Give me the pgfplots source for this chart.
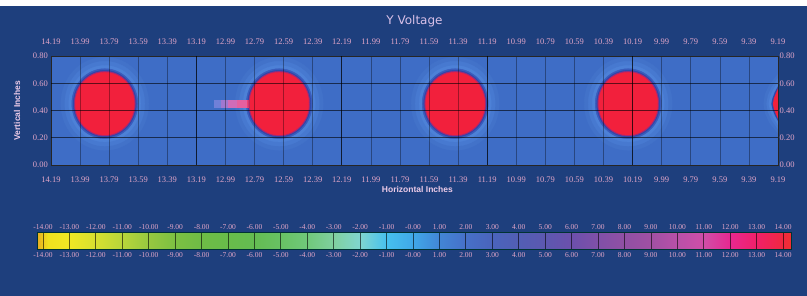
\documentclass[border=0pt]{standalone}
\usepackage{pgfplots}
\pgfplotsset{compat=1.18}
\usepackage{fontspec}
\setmainfont{Liberation Serif}
\newfontfamily\titlefont{DejaVu Sans}
\newfontfamily\labfont{Liberation Sans}
\definecolor{pagebg}{HTML}{1E3F7D}
\definecolor{plotbg}{HTML}{3E6DC6}
\definecolor{tickc}{HTML}{E2A6C8}
\definecolor{titlec}{HTML}{D8C0E8}
\definecolor{labc}{HTML}{ECCBE8}
\definecolor{glowA}{HTML}{4272C9}
\definecolor{glowB}{HTML}{4779D0}
\definecolor{glowC}{HTML}{4D81D7}
\definecolor{ringA}{HTML}{3A5CBC}
\definecolor{ringB}{HTML}{2E48AA}
\definecolor{ringC}{HTML}{A02A78}
\definecolor{core}{HTML}{F2203C}
\definecolor{tail1}{HTML}{7080D8}
\definecolor{tail2}{HTML}{A078D0}
\definecolor{tail3}{HTML}{D06CB8}
\definecolor{tail4}{HTML}{E460A0}
\definecolor{tail5}{HTML}{EE4070}
\pgfplotsset{
  colormap={vc}{
    rgb255(0pt)=(232,176,32);
    rgb255(4pt)=(238,205,30);
    rgb255(8pt)=(240,225,30);
    rgb255(24pt)=(240,232,36);
    rgb255(44pt)=(214,224,48);
    rgb255(64pt)=(184,214,58);
    rgb255(84pt)=(150,200,64);
    rgb255(104pt)=(124,192,66);
    rgb255(124pt)=(110,188,70);
    rgb255(144pt)=(104,188,74);
    rgb255(164pt)=(100,188,82);
    rgb255(184pt)=(104,194,100);
    rgb255(204pt)=(112,200,122);
    rgb255(224pt)=(128,208,160);
    rgb255(244pt)=(128,214,208);
    rgb255(264pt)=(70,192,238);
    rgb255(284pt)=(64,168,232);
    rgb255(304pt)=(66,134,214);
    rgb255(324pt)=(70,112,200);
    rgb255(344pt)=(74,100,188);
    rgb255(364pt)=(82,94,180);
    rgb255(384pt)=(92,88,176);
    rgb255(404pt)=(108,80,172);
    rgb255(424pt)=(128,80,168);
    rgb255(444pt)=(144,80,164);
    rgb255(464pt)=(160,80,164);
    rgb255(484pt)=(184,80,168);
    rgb255(504pt)=(208,78,168);
    rgb255(524pt)=(232,40,144);
    rgb255(544pt)=(240,32,104);
    rgb255(564pt)=(240,40,64);
    rgb255(570pt)=(240,48,48)
  }
}
\begin{document}
\begin{tikzpicture}
\fill[white] (0pt,0pt) rectangle (807pt,296pt);
\fill[pagebg] (0pt,0pt) rectangle (807pt,290pt);
% main heat map
\begin{axis}[
  at={(51pt,131pt)}, anchor=south west, scale only axis,
  width=727pt, height=109pt,
  x dir=reverse, xmin=9.19, xmax=14.19, ymin=0, ymax=0.8,
  axis background/.style={fill=plotbg},
  axis on top, clip=true, clip marker paths=true,
  xtick={9.19,9.39,9.59,9.79,9.99,10.39,10.59,10.79,10.99,11.39,11.59,11.79,11.99,12.39,12.59,12.79,12.99,13.39,13.59,13.79,13.99,14.19},
  extra x ticks={10.19,11.19,12.19,13.19},
  ytick={0,0.2,0.4,0.6,0.8},
  extra y ticks={0.2,0.4,0.6}, extra y tick labels={,,},
  xmajorgrids=true, ymajorgrids=false,
  major grid style={draw=black, draw opacity=0.35, line width=0.6pt},
  extra x tick style={grid=major, major grid style={draw=black, draw opacity=0.75, line width=0.8pt}},
  extra y tick style={grid=major, major grid style={draw=black, draw opacity=0.6, line width=0.8pt}},
  major tick length=0pt,
  axis line style={draw=black!85, line width=0.8pt},
  tick label style={font=\fontsize{8.5}{10}\selectfont, text=tickc},
  xticklabel style={anchor=center, yshift=-15pt},
  yticklabel style={anchor=east, inner sep=0pt, xshift=-3pt},
  /pgf/number format/fixed, /pgf/number format/fixed zerofill,
  /pgf/number format/precision=2, /pgf/number format/assume math mode=true,
  title={Y Voltage},
  title style={at={(axis description cs:0.5,1.33)}, anchor=center, yshift=-7pt, font=\titlefont\fontsize{12}{14}\selectfont, text=titlec},
  xlabel={Horizontal Inches},
  every axis x label/.style={at={(axis description cs:0.504,-0.2248)}, anchor=center, font=\labfont\bfseries\fontsize{8.5}{10}\selectfont, text=labc},
  ylabel={Vertical Inches},
  every axis y label/.style={at={(axis description cs:-0.0468,0.5)}, rotate=90, anchor=center, font=\labfont\bfseries\fontsize{8.5}{10}\selectfont, text=labc},
]
\addplot[only marks, mark=*, mark size=44pt, color=glowA, mark options={yscale=1.06}] coordinates {(13.82,0.45) (12.62,0.45) (11.41,0.45) (10.22,0.45)};
\addplot[only marks, mark=*, mark size=40pt, color=glowB, mark options={yscale=1.06}] coordinates {(13.82,0.45) (12.62,0.45) (11.41,0.45) (10.22,0.45)};
\addplot[only marks, mark=*, mark size=36pt, color=glowC, mark options={yscale=1.06}] coordinates {(13.82,0.45) (12.62,0.45) (11.41,0.45) (10.22,0.45)};
\addplot[only marks, mark=*, mark size=33pt, color=ringA, mark options={yscale=1.06}] coordinates {(13.82,0.45) (12.62,0.45) (11.41,0.45) (10.22,0.45)};
\addplot[only marks, mark=*, mark size=31.5pt, color=ringB, mark options={yscale=1.06}] coordinates {(13.82,0.45) (12.62,0.45) (11.41,0.45) (10.22,0.45)};
% fifth spot, cut by the right edge
\addplot[fill=glowA, draw=none] coordinates {(9.19,0.23) (9.25,0.31) (9.28,0.38) (9.29,0.45) (9.28,0.52) (9.25,0.59) (9.19,0.67)};
\addplot[fill=glowB, draw=none] coordinates {(9.19,0.26) (9.235,0.33) (9.26,0.39) (9.27,0.45) (9.26,0.51) (9.235,0.57) (9.19,0.64)};
\addplot[fill=glowC, draw=none] coordinates {(9.19,0.29) (9.225,0.35) (9.245,0.40) (9.255,0.45) (9.245,0.50) (9.225,0.55) (9.19,0.61)};
\addplot[fill=ringB, draw=none] coordinates {(9.19,0.322) (9.212,0.365) (9.228,0.41) (9.236,0.45) (9.228,0.49) (9.212,0.535) (9.19,0.578)};
\addplot[fill=core, draw=none] coordinates {(9.19,0.340) (9.205,0.375) (9.218,0.41) (9.225,0.45) (9.218,0.49) (9.205,0.525) (9.19,0.56)};
% tail of the second spot
\addplot[line width=8pt, line cap=butt, color=tail1] coordinates {(13.07,0.45) (13.02,0.45)};
\addplot[line width=8pt, line cap=butt, color=tail2] coordinates {(13.02,0.45) (12.97,0.45)};
\addplot[line width=8pt, line cap=butt, color=tail3] coordinates {(12.97,0.45) (12.91,0.45)};
\addplot[line width=8pt, line cap=butt, color=tail4] coordinates {(12.91,0.45) (12.84,0.45)};
\addplot[line width=8pt, line cap=butt, color=tail5] coordinates {(12.84,0.45) (12.78,0.45)};
\addplot[only marks, mark=*, mark size=30.5pt, color=ringC, mark options={yscale=1.06}] coordinates {(13.82,0.45) (12.62,0.45) (11.41,0.45) (10.22,0.45)};
\addplot[only marks, mark=*, mark size=29.5pt, color=core, mark options={yscale=1.06}] coordinates {(13.82,0.45) (12.62,0.45) (11.41,0.45) (10.22,0.45)};
\end{axis}
% top and right tick labels
\begin{axis}[
  at={(51pt,131pt)}, anchor=south west, scale only axis,
  width=727pt, height=109pt,
  x dir=reverse, xmin=9.19, xmax=14.19, ymin=0, ymax=0.8,
  xtick={9.19,9.39,9.59,9.79,9.99,10.19,10.39,10.59,10.79,10.99,11.19,11.39,11.59,11.79,11.99,12.19,12.39,12.59,12.79,12.99,13.19,13.39,13.59,13.79,13.99,14.19},
  ytick={0,0.2,0.4,0.6,0.8},
  xticklabel pos=right, yticklabel pos=right,
  axis line style={draw=none}, major tick length=0pt,
  tick label style={font=\fontsize{8.5}{10}\selectfont, text=tickc},
  xticklabel style={anchor=center, yshift=14pt},
  yticklabel style={anchor=west, inner sep=0pt, xshift=1.5pt},
  /pgf/number format/fixed, /pgf/number format/fixed zerofill,
  /pgf/number format/precision=2, /pgf/number format/assume math mode=true,
]
\end{axis}
% colour bar
\begin{axis}[
  at={(37.7pt,47pt)}, anchor=south west, scale only axis,
  width=753.3pt, height=17pt,
  xmin=-14.2, xmax=14.3, ymin=0, ymax=1,
  view={0}{90}, hide axis,
  colormap name=vc, point meta min=-14.2, point meta max=14.3,
]
\addplot3[surf, shader=interp, mesh/rows=2] table {
x y z
-14.2 0 -14.2
-14 0 -14
-13.8 0 -13.8
-13 0 -13
-12 0 -12
-11 0 -11
-10 0 -10
-9 0 -9
-8 0 -8
-7 0 -7
-6 0 -6
-5 0 -5
-4 0 -4
-3 0 -3
-2 0 -2
-1 0 -1
0 0 0
1 0 1
2 0 2
3 0 3
4 0 4
5 0 5
6 0 6
7 0 7
8 0 8
9 0 9
10 0 10
11 0 11
12 0 12
13 0 13
14 0 14
14.3 0 14.3
-14.2 1 -14.2
-14 1 -14
-13.8 1 -13.8
-13 1 -13
-12 1 -12
-11 1 -11
-10 1 -10
-9 1 -9
-8 1 -8
-7 1 -7
-6 1 -6
-5 1 -5
-4 1 -4
-3 1 -3
-2 1 -2
-1 1 -1
0 1 0
1 1 1
2 1 2
3 1 3
4 1 4
5 1 5
6 1 6
7 1 7
8 1 8
9 1 9
10 1 10
11 1 11
12 1 12
13 1 13
14 1 14
14.3 1 14.3
};
\end{axis}
\begin{axis}[
  at={(37.7pt,47pt)}, anchor=south west, scale only axis,
  width=753.3pt, height=17pt,
  xmin=-14.2, xmax=14.3, ymin=0, ymax=1,
  xtick={-14,-13,-12,-11,-10,-9,-8,-7,-6,-5,-4,-3,-2,-1,0,1,2,3,4,5,6,7,8,9,10,11,12,13,14},
  xticklabels={-14.00,-13.00,-12.00,-11.00,-10.00,-9.00,-8.00,-7.00,-6.00,-5.00,-4.00,-3.00,-2.00,-1.00,-0.00,1.00,2.00,3.00,4.00,5.00,6.00,7.00,8.00,9.00,10.00,11.00,12.00,13.00,14.00},
  ytick=\empty,
  xmajorgrids=true,
  major grid style={draw=black, draw opacity=0.6, line width=0.8pt},
  major tick length=0pt,
  axis line style={draw=black!60!teal, line width=0.5pt},
  xticklabel style={anchor=center, yshift=-6pt, font=\fontsize{7.5}{9}\selectfont, text=tickc},
]
\end{axis}
\begin{axis}[
  at={(37.7pt,47pt)}, anchor=south west, scale only axis,
  width=753.3pt, height=17pt,
  xmin=-14.2, xmax=14.3, ymin=0, ymax=1,
  xtick={-14,-13,-12,-11,-10,-9,-8,-7,-6,-5,-4,-3,-2,-1,0,1,2,3,4,5,6,7,8,9,10,11,12,13,14},
  xticklabels={-14.00,-13.00,-12.00,-11.00,-10.00,-9.00,-8.00,-7.00,-6.00,-5.00,-4.00,-3.00,-2.00,-1.00,-0.00,1.00,2.00,3.00,4.00,5.00,6.00,7.00,8.00,9.00,10.00,11.00,12.00,13.00,14.00},
  xticklabel pos=right,
  ytick=\empty,
  axis line style={draw=none},
  major tick length=0pt,
  xticklabel style={anchor=center, yshift=5pt, font=\fontsize{7.5}{9}\selectfont, text=tickc},
]
\end{axis}
\end{tikzpicture}
\end{document}
